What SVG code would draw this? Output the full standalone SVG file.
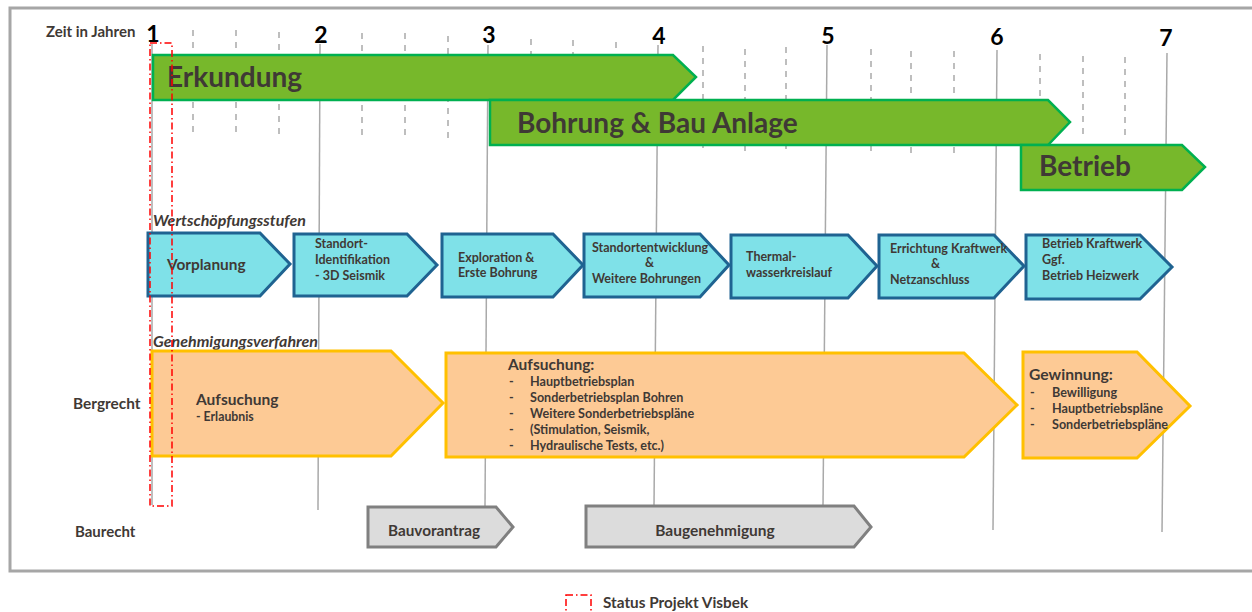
<svg xmlns="http://www.w3.org/2000/svg" width="1252" height="612" viewBox="0 0 1252 612">
<defs>
<style>
text{font-family:Lato,"Open Sans","Liberation Sans",sans-serif;font-weight:bold;fill:#3f3935}
.yr{fill:#000;font-size:23px;text-anchor:middle}
.grid{stroke:#a9a9a9;stroke-width:1.5;fill:none}
.dash{stroke:#a9a9a9;stroke-width:1.5;stroke-dasharray:6 6;fill:none}
.green{fill:#77b82b;stroke:#00b050;stroke-width:2.5}
.gt{font-size:28px}
.blue{fill:#7fe1e8;stroke:#1f6391;stroke-width:3;stroke-linejoin:miter}
.bt{font-size:12.5px}
.orange{fill:#fdca95;stroke:#ffc000;stroke-width:3}
.gray{fill:#dcdcdc;stroke:#808080;stroke-width:3}
.it{font-style:italic;font-size:16px}
.ot{font-size:12.6px}
.red{fill:none;stroke:#ff0000;stroke-width:1.5;stroke-dasharray:7 3 1.5 3}
</style>
</defs>
<rect x="0" y="0" width="1252" height="612" fill="#fff"/>
<rect x="10" y="8" width="1260" height="563" fill="none" stroke="#a6a6a6" stroke-width="3"/>

<g id="grid">
<line class="grid" x1="152" y1="44" x2="152" y2="505"/>
<line class="grid" x1="320" y1="44" x2="318" y2="510"/>
<line class="grid" x1="488" y1="45" x2="485" y2="507"/>
<line class="grid" x1="658" y1="45" x2="654" y2="506"/>
<line class="grid" x1="827" y1="45" x2="823" y2="506"/>
<line class="grid" x1="997" y1="50" x2="993" y2="530"/>
<line class="grid" x1="1167" y1="53" x2="1162" y2="532"/>
<line class="dash" x1="193" y1="30" x2="193" y2="133"/>
<line class="dash" x1="236" y1="30" x2="236" y2="132"/>
<line class="dash" x1="279" y1="32" x2="279" y2="134"/>
<line class="dash" x1="362" y1="33" x2="362" y2="135"/>
<line class="dash" x1="405" y1="33" x2="405" y2="136"/>
<line class="dash" x1="448" y1="36" x2="448" y2="138"/>
<line class="dash" x1="531" y1="39" x2="531" y2="140"/>
<line class="dash" x1="573" y1="40" x2="573" y2="141"/>
<line class="dash" x1="616" y1="42" x2="616" y2="143"/>
<line class="dash" x1="703" y1="46" x2="703" y2="149"/>
<line class="dash" x1="745" y1="49" x2="745" y2="152"/>
<line class="dash" x1="786" y1="47" x2="786" y2="150"/>
<line class="dash" x1="871" y1="49" x2="871" y2="153"/>
<line class="dash" x1="911" y1="51" x2="911" y2="154"/>
<line class="dash" x1="954" y1="51" x2="954" y2="154"/>
<line class="dash" x1="1040" y1="54" x2="1040" y2="140"/>
<line class="dash" x1="1083" y1="56" x2="1083" y2="140"/>
<line class="dash" x1="1125" y1="57" x2="1125" y2="140"/>
</g>

<g id="axis">
<text x="46" y="37" font-size="15">Zeit in Jahren</text>
<text class="yr" x="153" y="42">1</text>
<text class="yr" x="321" y="43">2</text>
<text class="yr" x="489" y="43">3</text>
<text class="yr" x="659" y="44">4</text>
<text class="yr" x="828" y="44">5</text>
<text class="yr" x="997" y="45">6</text>
<text class="yr" x="1166" y="46">7</text>
</g>

<g id="erkundung">
<polygon class="green" points="153,55 673,55 696,77 673,100 153,100"/>
<text class="gt" x="167" y="87">Erkundung</text>
</g>
<g id="bohrung">
<polygon class="green" points="490,100 1048,100 1070,122 1048,145 490,145"/>
<text class="gt" x="517" y="133">Bohrung &amp; Bau Anlage</text>
</g>
<g id="betrieb">
<polygon class="green" points="1021,145 1182,145 1205,167 1182,190 1021,190"/>
<text class="gt" x="1039" y="176">Betrieb</text>
</g>

<g id="labels">
<text class="it" x="153" y="226">Wertschöpfungsstufen</text>
<text class="it" x="153" y="347">Genehmigungsverfahren</text>
<text x="73" y="409" font-size="15.4">Bergrecht</text>
<text x="75" y="537" font-size="15">Baurecht</text>
</g>

<g id="vorplanung">
<polygon class="blue" points="148,233 260,233 290,264 260,296 148,296"/>
<text x="167" y="270" font-size="15.4">Vorplanung</text>
</g>
<g id="standort-identifikation">
<polygon class="blue" points="294,234 407,234 437,265 407,296 294,296"/>
<text class="bt" x="315" y="248">Standort-</text>
<text class="bt" x="315" y="264">Identifikation</text>
<text class="bt" x="315" y="280">- 3D Seismik</text>
</g>
<g id="exploration">
<polygon class="blue" points="442,234 553,234 583,265 553,297 442,297"/>
<text class="bt" x="458" y="262">Exploration &amp;</text>
<text class="bt" x="458" y="277">Erste Bohrung</text>
</g>
<g id="standortentwicklung">
<polygon class="blue" points="584,234 700,234 729,265 700,297 584,297"/>
<text class="bt" x="592" y="252">Standortentwicklung</text>
<text class="bt" x="645" y="267">&amp;</text>
<text class="bt" x="592" y="283">Weitere Bohrungen</text>
</g>
<g id="thermalwasser">
<polygon class="blue" points="731,235 848,235 877,266 848,298 731,298"/>
<text class="bt" x="746" y="261">Thermal-</text>
<text class="bt" x="746" y="277">wasserkreislauf</text>
</g>
<g id="errichtung">
<polygon class="blue" points="879,235 994,235 1024,266 994,298 879,298"/>
<text class="bt" x="890" y="253">Errichtung Kraftwerk</text>
<text class="bt" x="931" y="268">&amp;</text>
<text class="bt" x="890" y="284">Netzanschluss</text>
</g>
<g id="betrieb-kraftwerk">
<polygon class="blue" points="1026,235 1140,235 1172,267 1140,299 1026,299"/>
<text class="bt" x="1042" y="248">Betrieb Kraftwerk</text>
<text class="bt" x="1042" y="264">Ggf.</text>
<text class="bt" x="1042" y="280">Betrieb Heizwerk</text>
</g>

<g id="aufsuchung-erlaubnis">
<polygon class="orange" points="152,351 391,351 443,403 391,456 152,456"/>
<text x="196" y="405" font-size="15.5">Aufsuchung</text>
<text x="196" y="421" font-size="12.3">- Erlaubnis</text>
</g>
<g id="aufsuchung-plaene">
<polygon class="orange" points="446,353 964,353 1017,405 964,457 446,457"/>
<text x="508" y="370" font-size="15.5">Aufsuchung:</text>
<text class="ot" x="509" y="386">-</text><text class="ot" x="530" y="386">Hauptbetriebsplan</text>
<text class="ot" x="509" y="402">-</text><text class="ot" x="530" y="402">Sonderbetriebsplan Bohren</text>
<text class="ot" x="509" y="418">-</text><text class="ot" x="530" y="418">Weitere Sonderbetriebspläne</text>
<text class="ot" x="509" y="434">-</text><text class="ot" x="530" y="434">(Stimulation, Seismik,</text>
<text class="ot" x="509" y="450">-</text><text class="ot" x="530" y="450">Hydraulische Tests, etc.)</text>
</g>
<g id="gewinnung">
<polygon class="orange" points="1023,352 1137,352 1190,406 1137,458 1023,458"/>
<text x="1029" y="380" font-size="15.7">Gewinnung:</text>
<text class="ot" x="1030" y="397">-</text><text class="ot" x="1052" y="397">Bewilligung</text>
<text class="ot" x="1030" y="413">-</text><text class="ot" x="1052" y="413">Hauptbetriebspläne</text>
<text class="ot" x="1030" y="429">-</text><text class="ot" x="1052" y="429">Sonderbetriebspläne</text>
</g>

<g id="bauvorantrag">
<polygon class="gray" points="368,507 496,507 513,527 496,547 368,547"/>
<text x="388" y="536" font-size="15.3">Bauvorantrag</text>
</g>
<g id="baugenehmigung">
<polygon class="gray" points="586,506 854,506 871,527 854,547 586,547"/>
<text x="715" y="536" font-size="15.5" text-anchor="middle">Baugenehmigung</text>
</g>

<g id="status">
<rect class="red" x="150" y="43" width="22" height="463"/>
</g>
<g id="legend">
<rect class="red" x="566" y="595" width="25" height="24"/>
<text x="603" y="608" font-size="15.3">Status Projekt Visbek</text>
</g>
</svg>
